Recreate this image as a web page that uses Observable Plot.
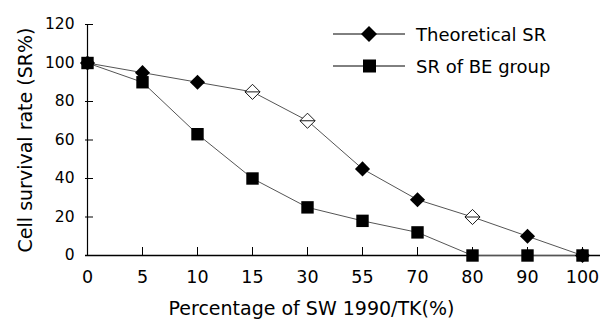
<!DOCTYPE html>
<html>
<head>
<meta charset="utf-8">
<script src="https://cdn.jsdelivr.net/npm/d3@7"></script>
<script src="https://cdn.jsdelivr.net/npm/@observablehq/plot@0.6"></script>
<style>
  html, body { margin: 0; padding: 0; background: white; }
  #wrap { position: relative; width: 609px; height: 320px; font-family: "DejaVu Sans", sans-serif; }
  #legend { position: absolute; left: 333px; top: 18px; font-size: 18px; color: #000; }
  .row { display: flex; align-items: center; height: 32px; }
  .row svg { margin-right: 11px; }
</style>
</head>
<body>
<div id="wrap"></div>
<script>
const categories = ["0", "5", "10", "15", "30", "55", "70", "80", "90", "100"];
const theoretical = [100, 95, 90, 85, 70, 45, 29, 20, 10, 0];
const beGroup = [100, 90, 63, 40, 25, 18, 12, 0, 0, 0];
const openTheoretical = ["15", "30", "80"];
const yTicks = [0, 20, 40, 60, 80, 100, 120];
const seriesNames = ["Theoretical SR", "SR of BE group"];
const xTitle = "Percentage of SW 1990/TK(%)";
const yTitle = "Cell survival rate (SR%)";

const theoData = categories.map((c, i) => ({cat: c, sr: theoretical[i], open: openTheoretical.includes(c)}));
const beData = categories.map((c, i) => ({cat: c, sr: beGroup[i]}));

const openDiamond = {
  draw(context, size) {
    const r = Math.sqrt(size) * 0.62625;
    context.moveTo(0, -r);
    context.lineTo(r, 0);
    context.lineTo(0, r);
    context.lineTo(-r, 0);
    context.closePath();
    context.moveTo(-r, 0);
    context.lineTo(r, 0);
  }
};

const chart = Plot.plot({
  width: 609,
  height: 320,
  marginLeft: 85,
  marginRight: 26,
  marginTop: 24,
  marginBottom: 65,
  style: {fontFamily: "DejaVu Sans, sans-serif", fontSize: "16px", color: "#000", background: "white", overflow: "visible"},
  x: {type: "point", domain: categories, padding: 0, label: null},
  y: {domain: [0, 120], label: null},
  marks: [
    Plot.axisY({ticks: yTicks, tickSize: 0, tickPadding: 11, fontSize: 15.5, label: yTitle, labelAnchor: "center", labelOffset: 67, labelArrow: "none"}),
    Plot.axisY({ticks: yTicks, tickSize: 8, dx: 8, tickFormat: () => "", label: null}),
    Plot.axisX({tickSize: 0, tickPadding: 15, fontSize: 17.5, label: xTitle, labelAnchor: "center", labelOffset: 59, labelArrow: "none"}),
    Plot.axisX({tickSize: 8, dy: -8, tickFormat: () => "", label: null}),
    Plot.ruleY([0], {stroke: "black", strokeWidth: 1.5, insetRight: -17}),
    Plot.ruleX([categories[0]], {y1: 0, y2: 120, stroke: "black", strokeWidth: 1.2}),
    Plot.line(theoData, {x: "cat", y: "sr", stroke: "#555", strokeWidth: 1}),
    Plot.line(beData, {x: "cat", y: "sr", stroke: "#555", strokeWidth: 1}),
    Plot.dot(theoData.filter(d => !d.open), {x: "cat", y: "sr", symbol: "diamond2", r: 6.8, fill: "black", stroke: "none"}),
    Plot.dot(theoData.filter(d => d.open), {x: "cat", y: "sr", symbol: openDiamond, r: 6.8, fill: "white", stroke: "black", strokeWidth: 0.9}),
    Plot.dot(beData, {x: "cat", y: "sr", symbol: "square", r: 7, fill: "black", stroke: "none"})
  ]
});

// title font sizes and horizontal placement of the x title
const yLab = chart.querySelector('g[aria-label="y-axis label"]');
if (yLab) yLab.setAttribute("font-size", 19);
const xLab = chart.querySelector('g[aria-label="x-axis label"]');
if (xLab) {
  xLab.setAttribute("font-size", 19);
  xLab.setAttribute("transform", (xLab.getAttribute("transform") || "") + " translate(-23,0)");
}

const wrap = document.getElementById("wrap");
wrap.appendChild(chart);

const legend = document.createElement("div");
legend.id = "legend";
const shapes = [
  '<polygon points="36,2 44,10 36,18 28,10" fill="black"/>',
  '<rect x="30" y="3.5" width="13" height="13" fill="black"/>'
];
seriesNames.forEach((name, i) => {
  const row = document.createElement("div");
  row.className = "row";
  row.innerHTML = '<svg width="72" height="20"><line x1="0" y1="10" x2="72" y2="10" stroke="black" stroke-width="1"/>' + shapes[i] + '</svg><span>' + name + '</span>';
  legend.appendChild(row);
});
wrap.appendChild(legend);
</script>
</body>
</html>
